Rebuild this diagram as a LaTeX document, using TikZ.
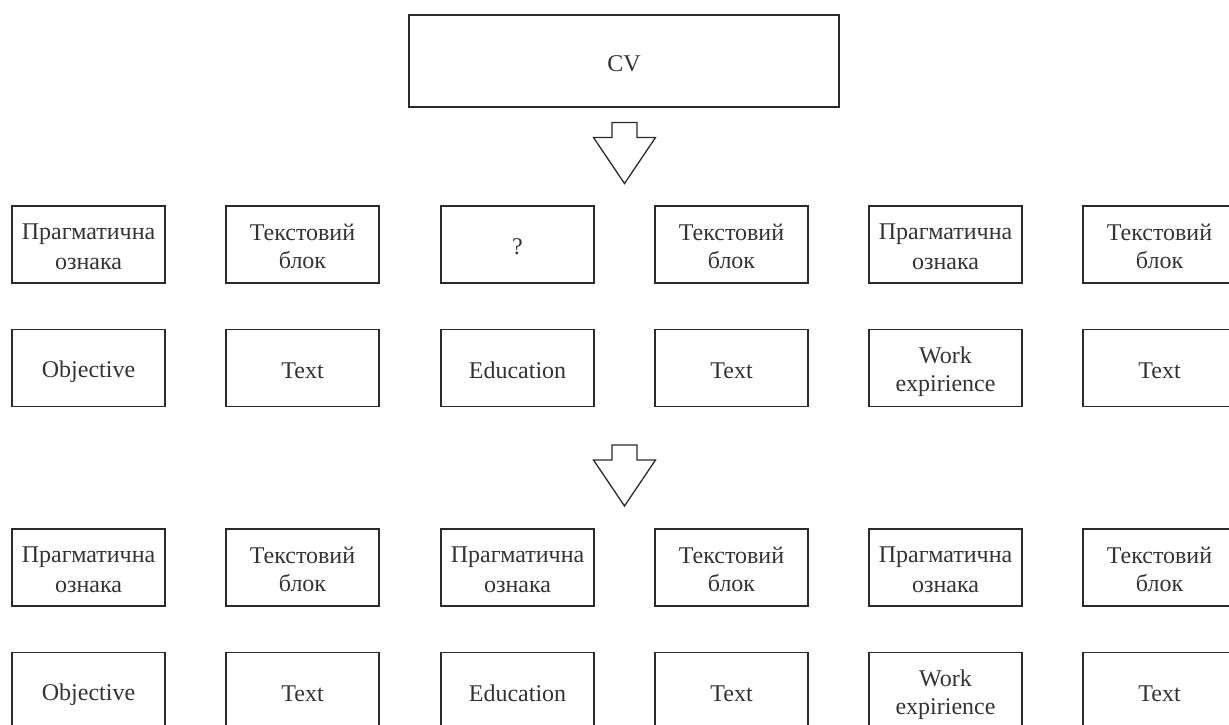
\documentclass[tikz,border=0pt]{standalone}
\usepackage{fontspec}
\setmainfont{Liberation Serif}
\definecolor{boxline}{HTML}{2B2B2B}
\definecolor{ink}{HTML}{333333}
% line strut: every line gets the same height and depth
\newcommand\lnstrut{\rule[-4pt]{0pt}{28pt}}
\begin{document}
\begin{tikzpicture}[x=1pt,y=-1pt,
  box/.style={draw=boxline, line width=1.3pt, minimum width=153pt, minimum height=77pt,
    inner sep=0pt, align=center, text=ink, font=\fontsize{24}{28}\selectfont},
  blockarrow/.style={draw=boxline, line width=1.3pt, line join=miter, fill=white},
  hollow arrow/.pic={
    \draw[blockarrow] (-12.5,0) -- (12.5,0) -- (12.5,15) -- (31,15) -- (0,61)
      -- (-31,15) -- (-12.5,15) -- cycle;
  }]
\useasboundingbox (0,0) rectangle (1229,724);
\clip (0,0) rectangle (1229,724);

% title block
\node[box, minimum width=430pt, minimum height=92pt] (cv) at (624,61) {\lnstrut CV};
\pic at (624.5,122.5) {hollow arrow};

% first group: labels
\node[box] (a1) at (88.5,244.5)  {\lnstrut Прагматична\\\lnstrut ознака};
\node[box] (a2) at (302.5,244.5) {\lnstrut Текстовий\\\lnstrut блок};
\node[box] (a3) at (517.5,244.5) {\lnstrut ?};
\node[box] (a4) at (731.5,244.5) {\lnstrut Текстовий\\\lnstrut блок};
\node[box] (a5) at (945.5,244.5) {\lnstrut Прагматична\\\lnstrut ознака};
\node[box] (a6) at (1159.5,244.5){\lnstrut Текстовий\\\lnstrut блок};

% first group: content
\node[box] (b1) at (88.5,368)  {\lnstrut Objective};
\node[box] (b2) at (302.5,368) {\lnstrut Text};
\node[box] (b3) at (517.5,368) {\lnstrut Education};
\node[box] (b4) at (731.5,368) {\lnstrut Text};
\node[box] (b5) at (945.5,368) {\lnstrut Work\\\lnstrut expirience};
\node[box] (b6) at (1159.5,368){\lnstrut Text};

\pic at (624.5,445) {hollow arrow};

% second group: labels
\node[box] (c1) at (88.5,567.5)  {\lnstrut Прагматична\\\lnstrut ознака};
\node[box] (c2) at (302.5,567.5) {\lnstrut Текстовий\\\lnstrut блок};
\node[box] (c3) at (517.5,567.5) {\lnstrut Прагматична\\\lnstrut ознака};
\node[box] (c4) at (731.5,567.5) {\lnstrut Текстовий\\\lnstrut блок};
\node[box] (c5) at (945.5,567.5) {\lnstrut Прагматична\\\lnstrut ознака};
\node[box] (c6) at (1159.5,567.5){\lnstrut Текстовий\\\lnstrut блок};

% second group: content
\node[box] (d1) at (88.5,691)  {\lnstrut Objective};
\node[box] (d2) at (302.5,691) {\lnstrut Text};
\node[box] (d3) at (517.5,691) {\lnstrut Education};
\node[box] (d4) at (731.5,691) {\lnstrut Text};
\node[box] (d5) at (945.5,691) {\lnstrut Work\\\lnstrut expirience};
\node[box] (d6) at (1159.5,691){\lnstrut Text};
\end{tikzpicture}
\end{document}
